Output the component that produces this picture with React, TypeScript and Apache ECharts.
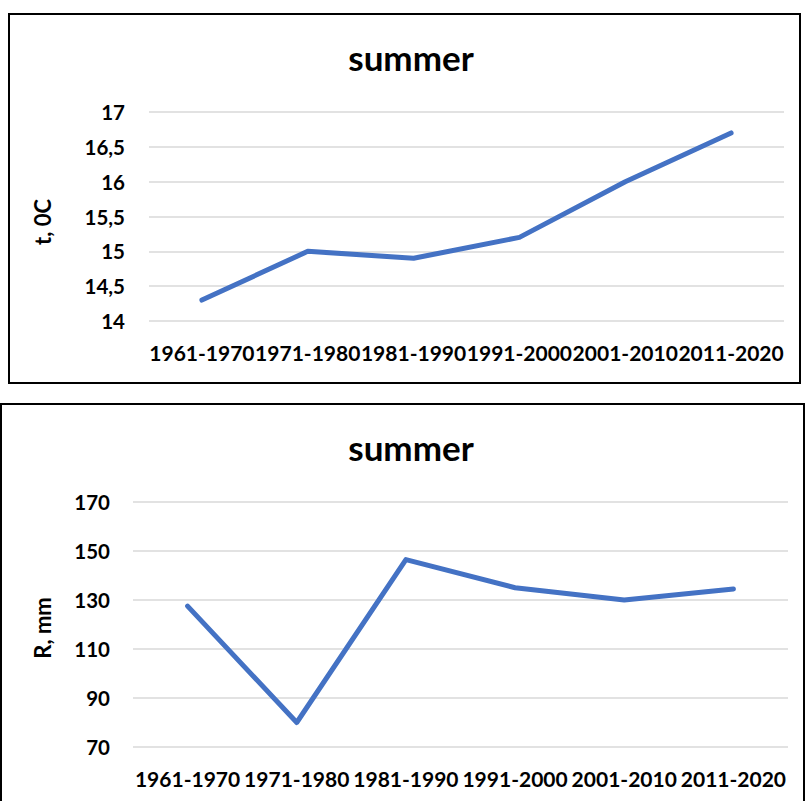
import React, { useEffect, useRef } from "react";
import * as echarts from "echarts";

const categories = ["1961-1970", "1971-1980", "1981-1990", "1991-2000", "2001-2010", "2011-2020"];
const tempValues = [14.3, 15.0, 14.9, 15.2, 16.0, 16.7];
const rainValues = [127.5, 80, 146.5, 135, 130, 134.5];
const titleText = "summer";
const tempAxisName = "t, 0C";
const rainAxisName = "R, mm";

const FONT = "Lato";
const LINE_COLOR = "#4472C4";

export default function App() {
  const ref = useRef<HTMLDivElement>(null);
  useEffect(() => {
    if (!ref.current) return;
    const chart = echarts.init(ref.current, null, { renderer: "svg" });
    const axisLabel = (margin: number, size: number, fmt?: (v: number) => string) => ({
      fontFamily: FONT,
      fontWeight: "bold",
      fontSize: size,
      color: "#000",
      margin,
      formatter: fmt,
    });
    const splitLine = { show: true, lineStyle: { color: "#D9D9D9", width: 1.5 } };
    const titleStyle = { fontFamily: FONT, fontWeight: "bold", fontSize: 35, lineHeight: 35, color: "#000" };
    chart.setOption({
      animation: false,
      backgroundColor: "#fff",
      title: [
        { text: titleText, left: 411, textAlign: "center", top: 39, padding: 0, textStyle: titleStyle },
        { text: titleText, left: 411, textAlign: "center", top: 429, padding: 0, textStyle: titleStyle },
      ],
      grid: [
        { left: 149, right: 806 - 784, top: 112, height: 209, containLabel: false },
        { left: 133, right: 806 - 788, top: 502, height: 245, containLabel: false },
      ],
      xAxis: [
        {
          type: "category",
          gridIndex: 0,
          data: categories,
          axisLine: { show: false },
          axisTick: { show: false },
          axisLabel: { ...axisLabel(21, 21), interval: 0 },
        },
        {
          type: "category",
          gridIndex: 1,
          data: categories,
          axisLine: { show: false },
          axisTick: { show: false },
          axisLabel: { ...axisLabel(21, 21), interval: 0 },
        },
      ],
      yAxis: [
        {
          type: "value",
          gridIndex: 0,
          min: 14,
          max: 17,
          interval: 0.5,
          axisLine: { show: false },
          axisTick: { show: false },
          splitLine,
          axisLabel: axisLabel(24, 20.5, (v: number) => String(v).replace(".", ",")),
        },
        {
          type: "value",
          gridIndex: 1,
          min: 70,
          max: 170,
          interval: 20,
          axisLine: { show: false },
          axisTick: { show: false },
          splitLine,
          axisLabel: axisLabel(23, 20.5),
        },
      ],
      series: [
        {
          type: "line",
          xAxisIndex: 0,
          yAxisIndex: 0,
          data: tempValues,
          showSymbol: false,
          symbol: "none",
          lineStyle: { color: LINE_COLOR, width: 5, cap: "round", join: "round" },
        },
        {
          type: "line",
          xAxisIndex: 1,
          yAxisIndex: 1,
          data: rainValues,
          showSymbol: false,
          symbol: "none",
          lineStyle: { color: LINE_COLOR, width: 5, cap: "round", join: "round" },
        },
      ],
      graphic: [
        {
          type: "rect",
          shape: { x: 9, y: 14, width: 791, height: 369 },
          style: { fill: "none", stroke: "#000", lineWidth: 2 },
          silent: true,
        },
        {
          type: "rect",
          shape: { x: 1, y: 404, width: 803, height: 420 },
          style: { fill: "none", stroke: "#000", lineWidth: 2 },
          silent: true,
        },
        {
          type: "text",
          x: 42,
          y: 222,
          rotation: Math.PI / 2,
          style: {
            text: tempAxisName,
            fontFamily: FONT,
            fontWeight: "bold",
            fontSize: 22,
            fill: "#000",
            align: "center",
            verticalAlign: "middle",
          },
        },
        {
          type: "text",
          x: 42,
          y: 628,
          rotation: Math.PI / 2,
          style: {
            text: rainAxisName,
            fontFamily: FONT,
            fontWeight: "bold",
            fontSize: 22,
            fill: "#000",
            align: "center",
            verticalAlign: "middle",
          },
        },
      ],
    });
    return () => chart.dispose();
  }, []);
  return (
    <div
      ref={ref}
      style={{ position: "absolute", left: 0, top: 0, width: 806, height: 801 }}
    />
  );
}
